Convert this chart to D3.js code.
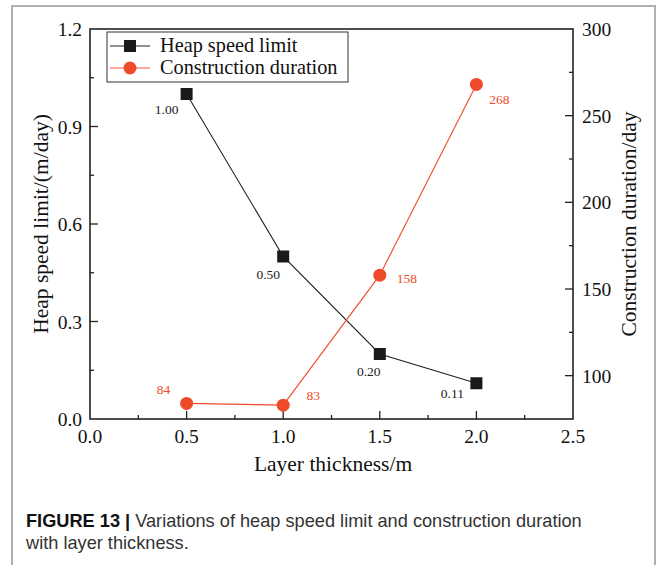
<!DOCTYPE html>
<html>
<head>
<meta charset="utf-8">
<script src="https://cdn.jsdelivr.net/npm/d3@7"></script>
<style>
  body { margin: 0; background: #fff; }
  svg { display: block; }
</style>
</head>
<body>
<script>
// data
var thickness = [0.5, 1.0, 1.5, 2.0];
var speedLimit = [1.00, 0.50, 0.20, 0.11];
var duration = [84, 83, 158, 268];
var speedLabels = ["1.00", "0.50", "0.20", "0.11"];
var durationLabels = ["84", "83", "158", "268"];
var xTicks = [0, 0.5, 1.0, 1.5, 2.0, 2.5];
var leftTicks = [0, 0.3, 0.6, 0.9, 1.2];
var rightTicks = [100, 150, 200, 250, 300];

const width = 664, height = 565;
const plotL = 90, plotR = 573, plotT = 29, plotB = 419;
const red = "#ef4a2a";
const serif = "'Liberation Serif', 'Times New Roman', serif";

var svg = d3.select("body").append("svg")
    .attr("width", width)
    .attr("height", height);

// outer frame
svg.append("rect")
    .attr("x", 12).attr("y", 6)
    .attr("width", 643).attr("height", 570)
    .attr("fill", "none")
    .attr("stroke", "#b0b0b0")
    .attr("stroke-width", 2);

var x = d3.scaleLinear().domain([0, 2.5]).range([plotL, plotR]);
var yL = d3.scaleLinear().domain([0, 1.2]).range([plotB, plotT]);
var yR = d3.scaleLinear().domain([75, 300]).range([plotB, plotT]);

// minor ticks
var xMinor = d3.range(0.25, 2.5, 0.5);
var lMinor = d3.range(0.15, 1.2, 0.3);
var rMinor = [125, 175, 225, 275];

var ax = svg.append("g").attr("stroke", "#222").attr("stroke-width", 1.3);
ax.selectAll(".xt").data(xTicks.slice(1, -1)).enter().append("line")
    .attr("x1", d => x(d)).attr("x2", d => x(d))
    .attr("y1", plotB).attr("y2", plotB - 8);
ax.selectAll(".xm").data(xMinor).enter().append("line")
    .attr("x1", d => x(d)).attr("x2", d => x(d))
    .attr("y1", plotB).attr("y2", plotB - 4);
ax.selectAll(".lt").data(leftTicks.slice(1, -1)).enter().append("line")
    .attr("x1", plotL).attr("x2", plotL + 8)
    .attr("y1", d => yL(d)).attr("y2", d => yL(d));
ax.selectAll(".lm").data(lMinor).enter().append("line")
    .attr("x1", plotL).attr("x2", plotL + 4)
    .attr("y1", d => yL(d)).attr("y2", d => yL(d));
ax.selectAll(".rt").data(rightTicks.slice(0, -1)).enter().append("line")
    .attr("x1", plotR).attr("x2", plotR - 8)
    .attr("y1", d => yR(d)).attr("y2", d => yR(d));
ax.selectAll(".rm").data(rMinor).enter().append("line")
    .attr("x1", plotR).attr("x2", plotR - 4)
    .attr("y1", d => yR(d)).attr("y2", d => yR(d));

svg.append("rect")
    .attr("x", plotL).attr("y", plotT)
    .attr("width", plotR - plotL).attr("height", plotB - plotT)
    .attr("fill", "none")
    .attr("stroke", "#222")
    .attr("stroke-width", 1.6);

// tick labels
var tl = svg.append("g").attr("font-family", serif).attr("font-size", 19.5).attr("fill", "#111");
tl.selectAll(".xl").data(xTicks).enter().append("text")
    .attr("x", d => x(d)).attr("y", 443)
    .attr("text-anchor", "middle")
    .text(d => d.toFixed(1));
tl.selectAll(".ll").data(leftTicks).enter().append("text")
    .attr("x", 82).attr("y", d => yL(d) + 7)
    .attr("text-anchor", "end")
    .text(d => d.toFixed(1));
tl.selectAll(".rl").data(rightTicks).enter().append("text")
    .attr("x", 582).attr("y", d => yR(d) + 7)
    .text(d => d);

// axis titles
var tt = svg.append("g").attr("font-family", serif).attr("font-size", 21.5).attr("fill", "#111");
tt.append("text").attr("x", 333).attr("y", 471).attr("text-anchor", "middle")
    .text("Layer thickness/m");
tt.append("text").attr("transform", "translate(48,224) rotate(-90)").attr("text-anchor", "middle")
    .text("Heap speed limit/(m/day)");
tt.append("text").attr("transform", "translate(636,224) rotate(-90)").attr("text-anchor", "middle")
    .text("Construction duration/day");

// series
var speedPts = thickness.map((t, i) => [t, speedLimit[i]]);
var durPts = thickness.map((t, i) => [t, duration[i]]);

svg.append("path")
    .attr("d", d3.line().x(d => x(d[0])).y(d => yL(d[1]))(speedPts))
    .attr("fill", "none").attr("stroke", "#222").attr("stroke-width", 1.1);
svg.append("path")
    .attr("d", d3.line().x(d => x(d[0])).y(d => yR(d[1]))(durPts))
    .attr("fill", "none").attr("stroke", red).attr("stroke-width", 1.1);

svg.selectAll(".sq").data(speedPts).enter().append("rect")
    .attr("x", d => x(d[0]) - 6).attr("y", d => yL(d[1]) - 6)
    .attr("width", 12).attr("height", 12)
    .attr("fill", "#1a1a1a");
svg.selectAll(".ci").data(durPts).enter().append("circle")
    .attr("cx", d => x(d[0])).attr("cy", d => yR(d[1]))
    .attr("r", 6.5)
    .attr("fill", red);

// point labels
var speedOff = [[-20, 20], [-15, 22], [-11, 22], [-24, 15]];
var durOff = [[-23, -9], [30, -5], [27, 8], [23, 20]];
svg.selectAll(".sl").data(speedPts).enter().append("text")
    .attr("x", (d, i) => x(d[0]) + speedOff[i][0])
    .attr("y", (d, i) => yL(d[1]) + speedOff[i][1])
    .attr("text-anchor", "middle")
    .attr("font-family", serif).attr("font-size", 13.5).attr("fill", "#222")
    .text((d, i) => speedLabels[i]);
svg.selectAll(".dl").data(durPts).enter().append("text")
    .attr("x", (d, i) => x(d[0]) + durOff[i][0])
    .attr("y", (d, i) => yR(d[1]) + durOff[i][1])
    .attr("text-anchor", "middle")
    .attr("font-family", serif).attr("font-size", 13.5).attr("fill", red)
    .text((d, i) => durationLabels[i]);

// legend
var lg = svg.append("g");
lg.append("rect")
    .attr("x", 107).attr("y", 32).attr("width", 241).attr("height", 50)
    .attr("fill", "#fff").attr("stroke", "#333").attr("stroke-width", 1);
lg.append("line").attr("x1", 110).attr("x2", 150).attr("y1", 46).attr("y2", 46)
    .attr("stroke", "#222").attr("stroke-width", 1.1);
lg.append("rect").attr("x", 124).attr("y", 40).attr("width", 12).attr("height", 12).attr("fill", "#1a1a1a");
lg.append("line").attr("x1", 110).attr("x2", 150).attr("y1", 68).attr("y2", 68)
    .attr("stroke", "#f39080").attr("stroke-width", 1.3);
lg.append("circle").attr("cx", 130).attr("cy", 68).attr("r", 6.5).attr("fill", red);
lg.append("text").attr("x", 160).attr("y", 52)
    .attr("font-family", serif).attr("font-size", 20.3).attr("fill", "#111")
    .text("Heap speed limit");
lg.append("text").attr("x", 160).attr("y", 74)
    .attr("font-family", serif).attr("font-size", 20.3).attr("fill", "#111")
    .text("Construction duration");

// caption
var cap = svg.append("g").attr("font-family", "'Liberation Sans', Arial, sans-serif")
    .attr("font-size", 18.2).attr("fill", "#333");
var c1 = cap.append("text").attr("x", 26).attr("y", 527);
c1.append("tspan").attr("font-weight", "bold").attr("fill", "#111").text("FIGURE 13 | ");
c1.append("tspan").text("Variations of heap speed limit and construction duration");
cap.append("text").attr("x", 26).attr("y", 549).text("with layer thickness.");
</script>
</body>
</html>
